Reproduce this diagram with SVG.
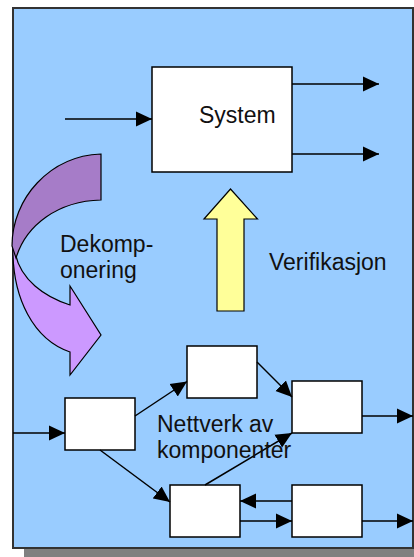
<svg xmlns="http://www.w3.org/2000/svg" width="414" height="557" viewBox="0 0 414 557">
<style>
.node{fill:#fff;stroke:#000;stroke-width:1.5}
.conn{stroke:#000;stroke-width:1.5;fill:none;marker-end:url(#ah)}
.lbl{font-family:"Liberation Sans",Arial,sans-serif;font-size:23px;fill:#111}
.purple{stroke:#000;stroke-width:1.2}
</style>
<defs>
<marker id="ah" markerUnits="userSpaceOnUse" markerWidth="16" markerHeight="16" viewBox="0 0 15 14" refX="15" refY="7" orient="auto">
<path d="M0,0 L15,7 L0,14 Z" fill="#000"/>
</marker>
</defs>
<rect x="24" y="20" width="400" height="545" fill="#808080"/>
<rect x="13" y="8" width="400" height="540" fill="#99CCFF" stroke="#333" stroke-width="2"/>
<g id="decomposition-arrow">
<path class="purple" fill="#CC99FF" d="M13,242 C11,300 35,340 70,352 L70,375 L101,335 L70,286 L70,305 C45,297 20,280 15,252 Z"/>
<path class="purple" fill="#A67CC8" d="M101,154 C50,156 12,198 12,246 L16,258 C26,225 58,201 101,200 Z"/>
</g>
<g id="verification-arrow">
<path d="M230.5,189 L257.5,219 L244,219 L244,311 L217,311 L217,219 L204,219 Z" fill="#FFFF99" stroke="#000" stroke-width="1.2"/>
</g>
<g id="system">
<rect class="node" x="152" y="67" width="140" height="105"/>
<text class="lbl" x="199" y="123">System</text>
</g>
<g id="nA"><rect class="node" x="65" y="398" width="70" height="52"/></g>
<g id="nB"><rect class="node" x="187" y="346" width="70" height="52"/></g>
<g id="nC"><rect class="node" x="292" y="381" width="70" height="52"/></g>
<g id="nD"><rect class="node" x="170" y="485" width="70" height="52"/></g>
<g id="nE"><rect class="node" x="292" y="485" width="70" height="52"/></g>
<g id="connectors">
<line class="conn" x1="65" y1="119" x2="152" y2="119"/>
<line class="conn" x1="292" y1="84" x2="379" y2="84"/>
<line class="conn" x1="292" y1="154" x2="379" y2="154"/>
<line class="conn" x1="13" y1="433" x2="65" y2="433"/>
<line class="conn" x1="135" y1="416" x2="187" y2="381.5"/>
<line class="conn" x1="100" y1="450" x2="170" y2="502"/>
<line class="conn" x1="257" y1="362" x2="292" y2="397"/>
<line class="conn" x1="205" y1="485" x2="292" y2="433"/>
<line class="conn" x1="292" y1="501" x2="240" y2="501"/>
<line class="conn" x1="240" y1="521" x2="292" y2="521"/>
<line class="conn" x1="362" y1="416" x2="413" y2="416"/>
<line class="conn" x1="362" y1="521" x2="413" y2="521"/>
</g>
<g id="labels">
<text class="lbl" x="60" y="252">Dekomp-</text>
<text class="lbl" x="60" y="278">onering</text>
<text class="lbl" x="269" y="270">Verifikasjon</text>
<text class="lbl" x="157" y="432">Nettverk av</text>
<text class="lbl" x="157" y="458">komponenter</text>
</g>
</svg>
